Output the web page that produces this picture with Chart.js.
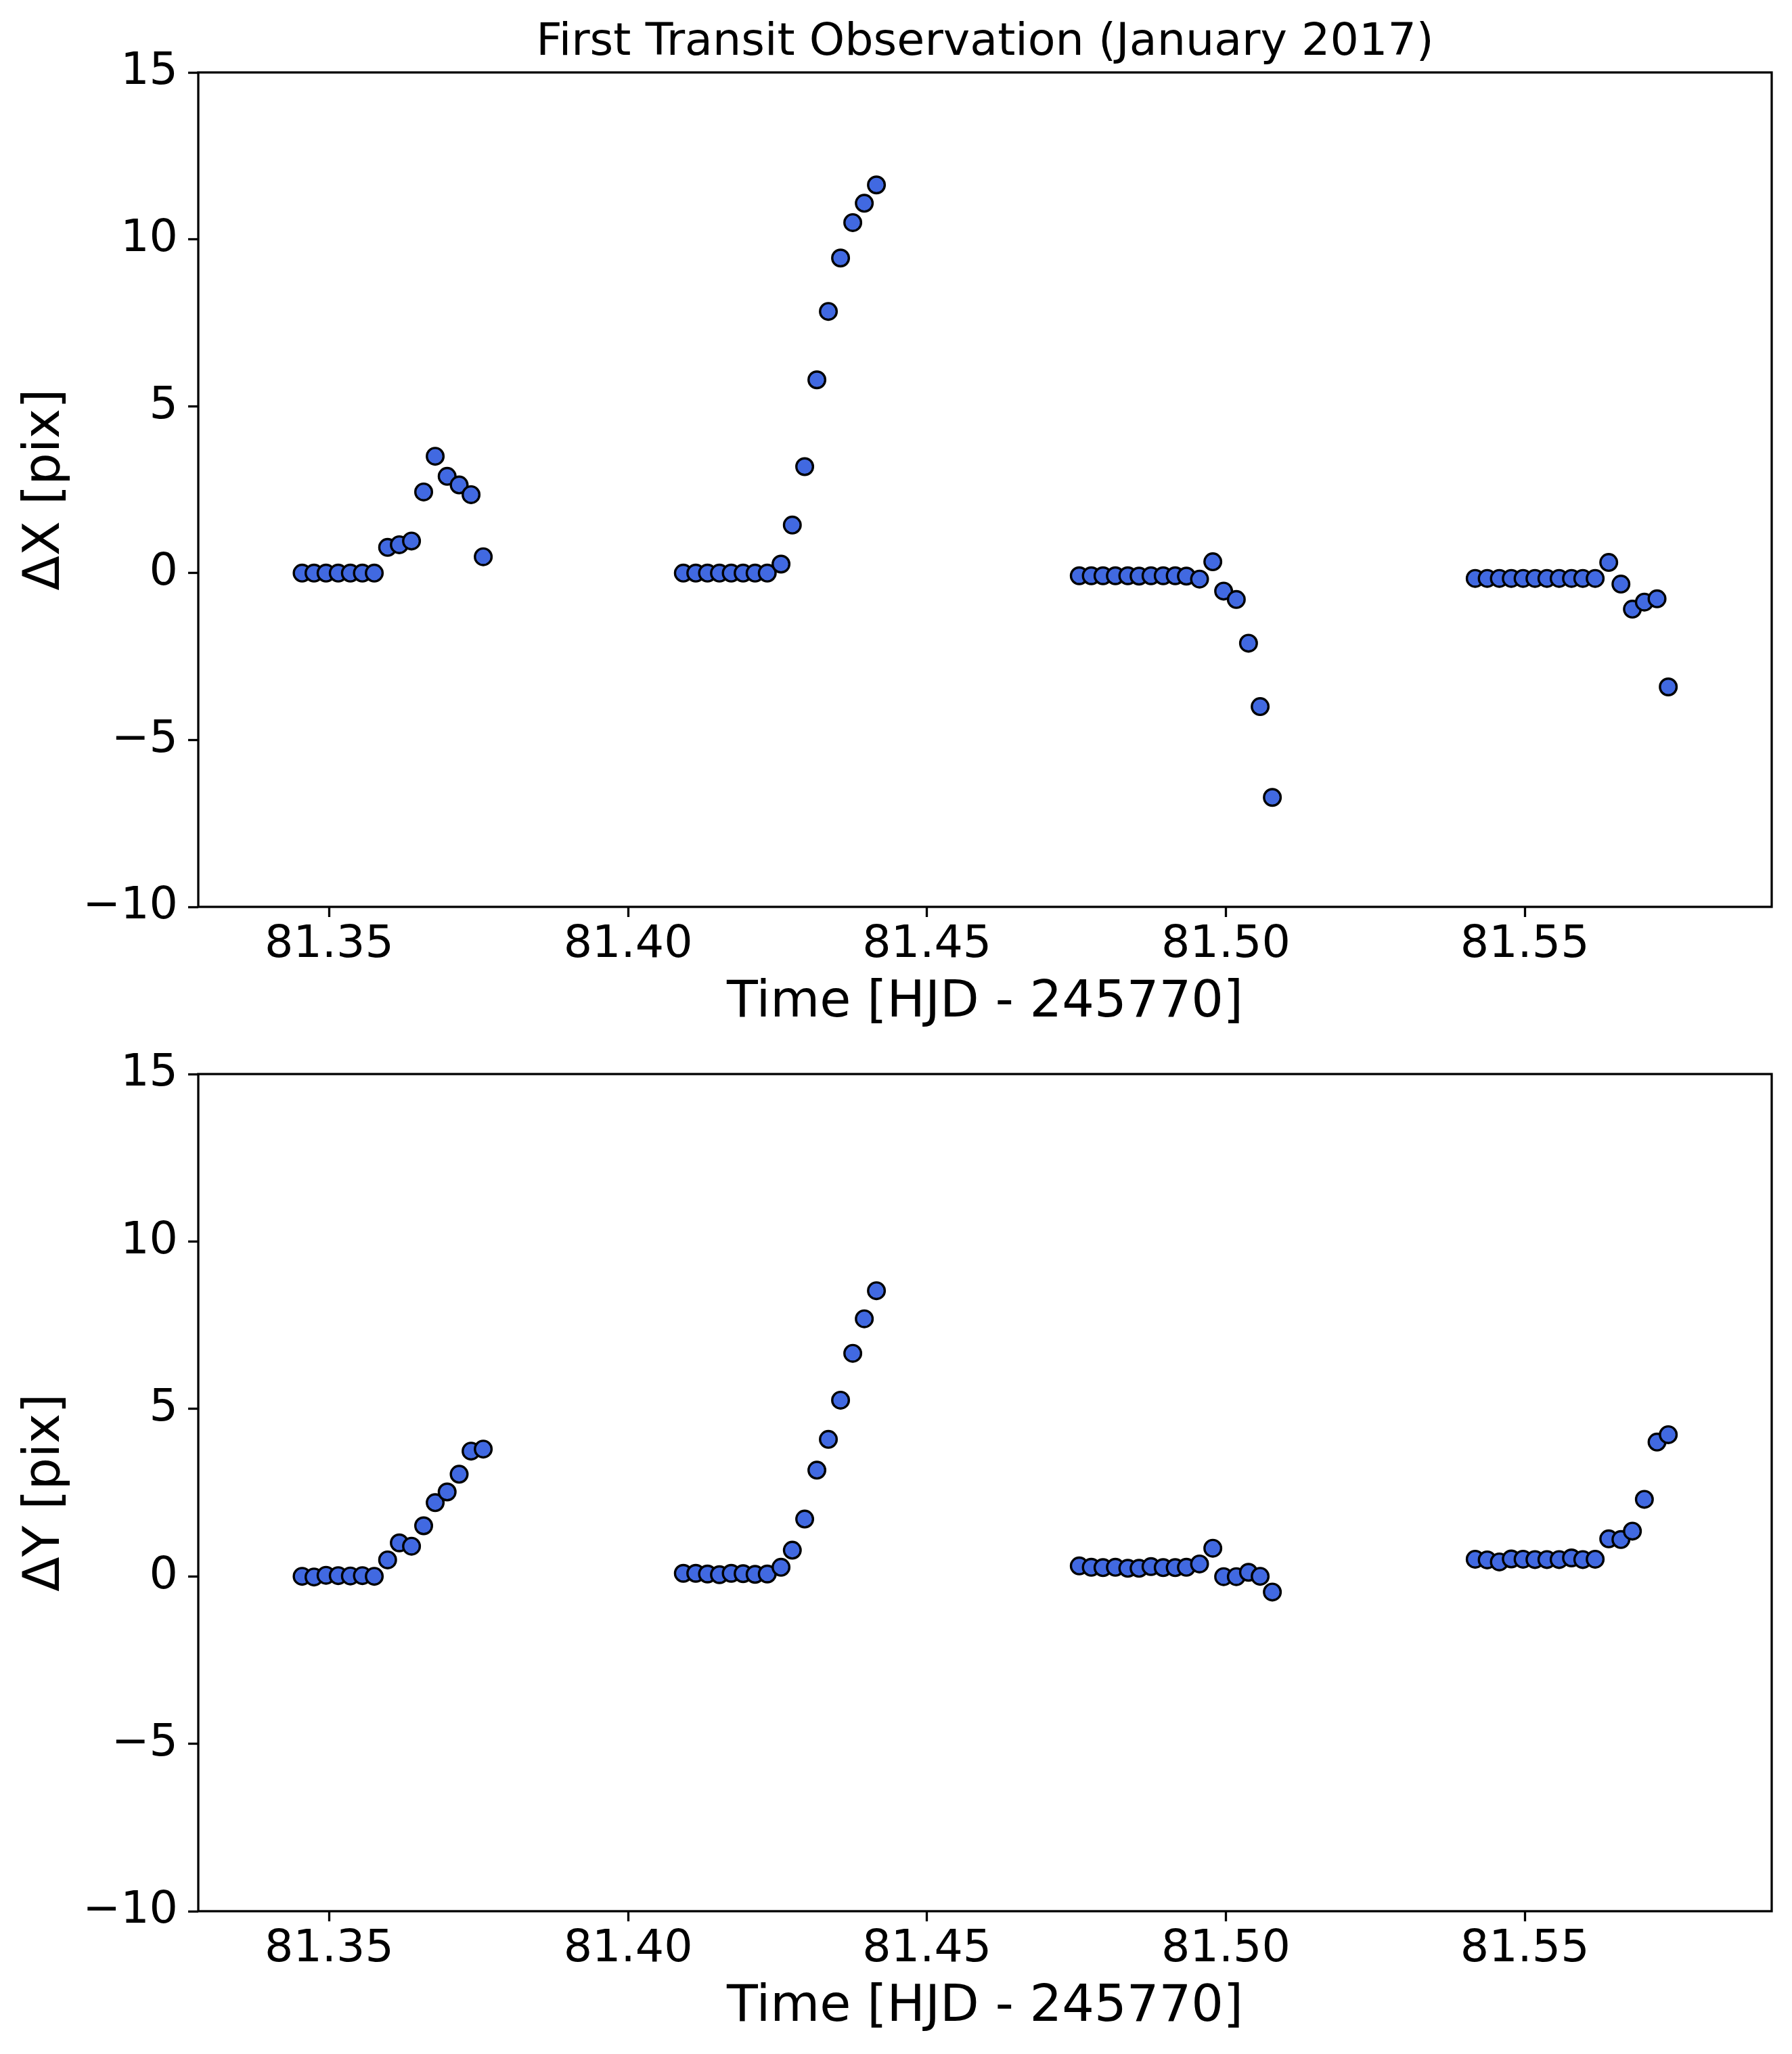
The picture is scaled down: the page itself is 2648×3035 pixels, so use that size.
<!DOCTYPE html>
<html>
<head>
<meta charset="utf-8">
<script src="https://cdn.jsdelivr.net/npm/chart.js@4.4.1/dist/chart.umd.min.js"></script>
<style>
  html, body { margin: 0; padding: 0; background: #fff; }
  #wrap { position: relative; width: 2648px; height: 3035px; }
  canvas { position: absolute; left: 0; }
</style>
</head>
<body>
<div id="wrap">
  <canvas id="chartX" width="2648" height="1540" style="top:0"></canvas>
  <canvas id="chartY" width="2648" height="1503" style="top:1532px"></canvas>
</div>
<script>
// time of each frame, one array per visit [HJD - 245770]
var timeV1 = [81.34547, 81.34746, 81.34947, 81.35151, 81.35354, 81.35555, 81.35754, 81.35977,
  81.36173, 81.36377, 81.36580, 81.36773, 81.36973, 81.37174, 81.37373, 81.37577];
var timeV2 = [81.40924, 81.41132, 81.41328, 81.41528, 81.41725, 81.41924, 81.42124, 81.42328,
  81.42558, 81.42747, 81.42954, 81.43158, 81.43350, 81.43554, 81.43758, 81.43951, 81.44154];
var timeV3 = [81.47547, 81.47748, 81.47944, 81.48151, 81.48359, 81.48547, 81.48747, 81.48951,
  81.49152, 81.49339, 81.49559, 81.49781, 81.49962, 81.50174, 81.50378, 81.50573, 81.50777];
var timeV4 = [81.54170, 81.54371, 81.54574, 81.54774, 81.54971, 81.55170, 81.55370, 81.55574,
  81.55781, 81.55970, 81.56177, 81.56404, 81.56608, 81.56800, 81.57000, 81.57212, 81.57400];

// x offset [pix]
var dxV1 = [0, 0, 0, 0, 0, 0, 0, 0.77, 0.85, 0.96, 2.43, 3.50, 2.90, 2.64, 2.35, 0.49];
var dxV2 = [0, 0, 0, 0, 0, 0, 0, 0, 0.27, 1.44, 3.19, 5.79, 7.84, 9.44, 10.50, 11.08, 11.63];
var dxV3 = [-0.08, -0.08, -0.08, -0.08, -0.08, -0.09, -0.08, -0.08, -0.08, -0.09, -0.18,
  0.34, -0.54, -0.79, -2.10, -4.00, -6.72];
var dxV4 = [-0.16, -0.16, -0.16, -0.16, -0.16, -0.16, -0.16, -0.16, -0.16, -0.16, -0.16,
  0.32, -0.33, -1.08, -0.87, -0.77, -3.41];

// y offset [pix]
var dyV1 = [0, -0.02, 0.03, 0.02, 0.01, 0.02, 0, 0.49, 1.00, 0.90, 1.51, 2.20, 2.52, 3.05, 3.74, 3.80];
var dyV2 = [0.09, 0.09, 0.07, 0.05, 0.09, 0.08, 0.06, 0.07, 0.27, 0.78, 1.71, 3.17, 4.09, 5.26,
  6.66, 7.69, 8.53];
var dyV3 = [0.31, 0.27, 0.26, 0.27, 0.24, 0.24, 0.29, 0.26, 0.26, 0.27, 0.37, 0.84, -0.01,
  -0.01, 0.12, 0.0, -0.47];
var dyV4 = [0.51, 0.49, 0.43, 0.52, 0.51, 0.50, 0.50, 0.50, 0.55, 0.50, 0.51, 1.12, 1.10,
  1.35, 2.30, 4.01, 4.23];

var yTicks = [-10, -5, 0, 5, 10, 15];
var xTicks = [81.35, 81.40, 81.45, 81.50, 81.55];

var times = timeV1.concat(timeV2, timeV3, timeV4);
var dx = dxV1.concat(dxV2, dxV3, dxV4);
var dy = dyV1.concat(dyV2, dyV3, dyV4);

var FONT = "'DejaVu Sans', 'Liberation Sans', sans-serif";

function toPoints(ys) {
  return times.map(function (t, i) { return { x: t, y: ys[i] }; });
}

// matplotlib style box around the plot area
var frame = {
  id: "frame",
  afterDraw: function (chart) {
    var a = chart.chartArea, c = chart.ctx;
    c.save();
    c.strokeStyle = "#000";
    c.lineWidth = 3.3;
    c.strokeRect(a.left, a.top, a.right - a.left, a.bottom - a.top);
    c.restore();
  }
};

function makeChart(id, ys, yLabel, titleText, xHeight, xTitlePad, topPad) {
  return new Chart(document.getElementById(id), {
    type: "scatter",
    data: {
      datasets: [{
        data: toPoints(ys),
        pointRadius: 12.3,
        pointHoverRadius: 12.3,
        pointBackgroundColor: "#4169E1",
        pointBorderColor: "#000",
        pointBorderWidth: 3.4
      }]
    },
    options: {
      responsive: false,
      animation: false,
      devicePixelRatio: 1,
      layout: { padding: { left: 0, right: 30, top: topPad, bottom: 0 } },
      plugins: {
        legend: { display: false },
        tooltip: { enabled: false },
        title: {
          display: !!titleText,
          text: titleText,
          fullSize: false,
          color: "#000",
          font: { family: FONT, size: 66.7, weight: "normal", lineHeight: 1.2 },
          padding: { top: 24, bottom: 3 }
        }
      },
      scales: {
        x: {
          type: "linear",
          min: 81.3281,
          max: 81.5913,
          afterFit: function (s) { s.height = xHeight; },
          afterBuildTicks: function (s) {
            s.ticks = xTicks.map(function (v) { return { value: v }; });
          },
          ticks: {
            color: "#000",
            padding: 2,
            maxRotation: 0,
            font: { family: FONT, size: 66.7 },
            callback: function (v) { return Number(v).toFixed(2); }
          },
          grid: { drawOnChartArea: false, drawTicks: true, tickLength: 15, tickWidth: 3.3, tickColor: "#000" },
          border: { display: false },
          title: {
            display: true,
            text: "Time [HJD - 245770]",
            color: "#000",
            font: { family: FONT, size: 75, lineHeight: 1.2 },
            padding: { top: 0, bottom: xTitlePad }
          }
        },
        y: {
          type: "linear",
          min: -10,
          max: 15,
          afterFit: function (s) { s.width = 293; },
          afterBuildTicks: function (s) {
            s.ticks = yTicks.map(function (v) { return { value: v }; });
          },
          ticks: {
            color: "#000",
            padding: 15,
            font: { family: FONT, size: 66.7 },
            callback: function (v) { return v < 0 ? "\u2212" + Math.abs(v) : String(v); }
          },
          grid: { drawOnChartArea: false, drawTicks: true, tickLength: 15, tickWidth: 3.3, tickColor: "#000" },
          border: { display: false },
          title: {
            display: true,
            text: yLabel,
            color: "#000",
            font: { family: FONT, size: 75, lineHeight: 1.2 },
            padding: { top: 23, bottom: 0 }
          }
        }
      }
    },
    plugins: [frame]
  });
}

makeChart("chartX", dx, "\u0394X [pix]", "First Transit Observation (January 2017)", 200, 12, 0);
makeChart("chartY", dy, "\u0394Y [pix]", "", 211, 23, 42);
</script>
</body>
</html>
